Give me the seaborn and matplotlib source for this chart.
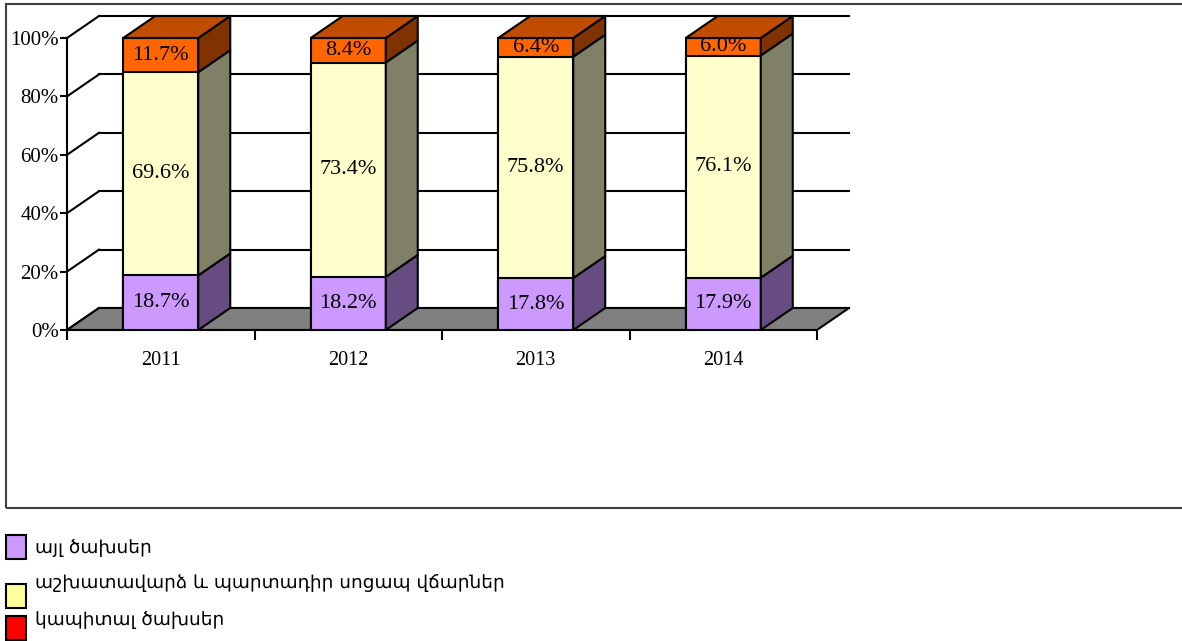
import numpy as np
import pandas as pd
import matplotlib
matplotlib.use("Agg")
import matplotlib.pyplot as plt
from matplotlib.patches import Polygon, Rectangle
import seaborn as sns

years = ["2011", "2012", "2013", "2014"]
other = [18.7, 18.2, 17.8, 17.9]
wages = [69.6, 73.4, 75.8, 76.1]
capital = [11.7, 8.4, 6.4, 6.0]

series_names = ["այլ ծախսեր", "աշխատավարձ և պարտադիր սոցապ վճարներ", "կապիտալ ծախսեր"]
front_colors = ["#CC99FF", "#FFFFCC", "#FF6600"]
side_colors = ["#664C80", "#808066", "#803300"]
top_color = "#BF4C00"
legend_colors = ["#CC99FF", "#FFFF99", "#FF0000"]

W, H = 1182, 641
fig = plt.figure(figsize=(W / 100, H / 100), dpi=100)

# plot area in pixels: front axis x 67..817, back wall to 849; y 0% at 330, 100% at 38
px_unit = 187.5
dx = 32 / px_unit
dy = 22 / 2.92
left_px, right_px, bottom_px, top_px = 67, 849, 330, 16
ax = fig.add_axes([left_px / W, (H - bottom_px) / H,
                   (right_px - left_px) / W, (bottom_px - top_px) / H])

df = pd.DataFrame({"year": years, "other": other, "wages": wages, "capital": capital})
df["c1"] = df["other"]
df["c2"] = df["other"] + df["wages"]
df["c3"] = df["c2"] + df["capital"]

bw = 0.4
# front faces: draw cumulative totals from top layer down
for col, color in zip(["c3", "c2", "c1"], front_colors[::-1]):
    sns.barplot(data=df, x="year", y=col, color=color, saturation=1, width=bw,
                edgecolor="black", linewidth=1.5, ax=ax, zorder=4)

# back wall gridlines and left wall diagonals
for v in range(0, 101, 20):
    ax.plot([-0.5 + dx, 3.5 + dx], [v + dy, v + dy], color="black", lw=1.5, zorder=1, clip_on=False)
    ax.plot([-0.5, -0.5 + dx], [v, v + dy], color="black", lw=1.5, zorder=1, clip_on=False)

# floor
ax.add_patch(Polygon([(-0.5, 0), (3.5, 0), (3.5 + dx, dy), (-0.5 + dx, dy)],
                     closed=True, facecolor="#808080", edgecolor="black", lw=1.5, zorder=2))

# side and top faces
for i in range(len(years)):
    bounds = [0, df["c1"][i], df["c2"][i], df["c3"][i]]
    xr = i + bw / 2
    for k in range(3):
        b, t = bounds[k], bounds[k + 1]
        ax.add_patch(Polygon([(xr, b), (xr + dx, b + dy), (xr + dx, t + dy), (xr, t)],
                             closed=True, facecolor=side_colors[k], edgecolor="black",
                             lw=1.5, zorder=5, clip_on=False))
    T = bounds[3]
    ax.add_patch(Polygon([(i - bw / 2, T), (xr, T), (xr + dx, T + dy), (i - bw / 2 + dx, T + dy)],
                         closed=True, facecolor=top_color, edgecolor="black", lw=1.5,
                         zorder=5, clip_on=False))
    vals = [other[i], wages[i], capital[i]]
    for k in range(3):
        mid = (bounds[k] + bounds[k + 1]) / 2
        ax.text(i, mid, f"{vals[k]:.1f}%", ha="center", va="center", fontsize=16,
                family="Liberation Serif", zorder=6)

ax.set_xlim(-0.5, 3.5 + dx)
ax.set_ylim(0, 100 + dy)
ax.set_xlabel("")
ax.set_ylabel("")
ax.patch.set_alpha(0)
for s in ["top", "right"]:
    ax.spines[s].set_visible(False)
ax.spines["left"].set_bounds(0, 100)
ax.spines["bottom"].set_bounds(-0.5, 3.5)
ax.spines["left"].set_linewidth(1.5)
ax.spines["bottom"].set_linewidth(1.5)
ax.spines["left"].set_zorder(3)
ax.spines["bottom"].set_zorder(3)

ax.set_yticks(range(0, 101, 20))
ax.set_yticklabels([f"{v}%" for v in range(0, 101, 20)], family="Liberation Serif", fontsize=15)
ax.tick_params(axis="y", length=5, width=1.5, pad=1)
ax.set_xticks(range(4))
ax.set_xticklabels(years, family="Liberation Serif", fontsize=14.5)
ax.set_xticks(np.arange(-0.5, 4, 1), minor=True)
ax.tick_params(axis="x", which="major", length=0, pad=15)
ax.tick_params(axis="x", which="minor", length=7, width=1.5)

# plot area frame
fig.patches.append(Rectangle((6 / W, (H - 508) / H), 1.2, (508 - 4) / H,
                             transform=fig.transFigure, fill=False,
                             edgecolor="#404040", lw=1.5))

# legend
text_y = [548, 583, 620]
box_y = [535, 584, 616]
for name, color, ty, by in zip(series_names, legend_colors, text_y, box_y):
    fig.patches.append(Rectangle((6 / W, (H - by - 24) / H), 20 / W, 24 / H,
                                 transform=fig.transFigure, facecolor=color,
                                 edgecolor="black", lw=1.5))
    fig.text(35 / W, (H - ty) / H, name, ha="left", va="center", fontsize=13.3,
             family=["DejaVu Sans", "Noto Sans"])

fig.savefig("out.png", dpi=100)
